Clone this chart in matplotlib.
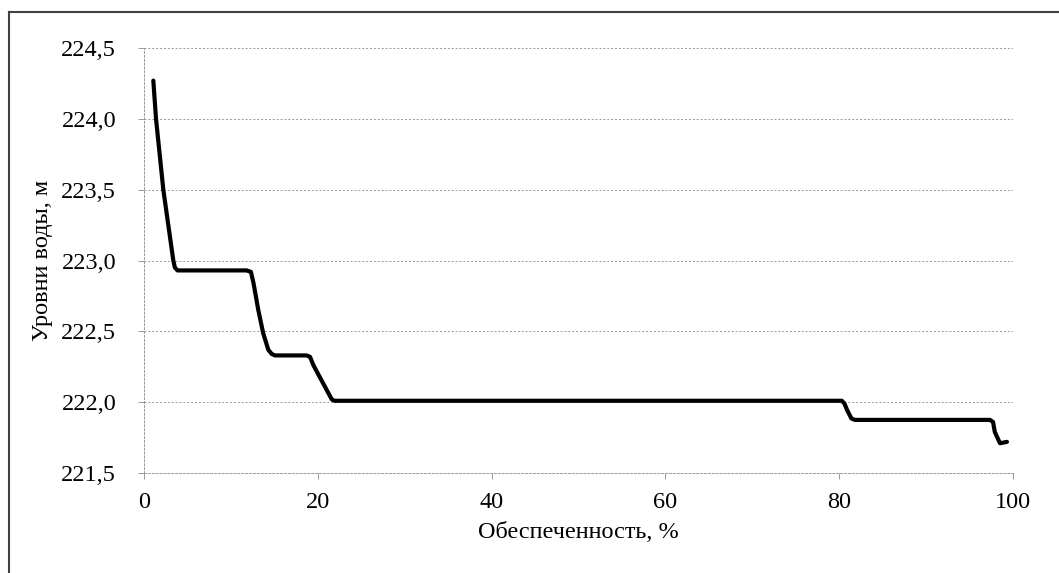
import matplotlib.pyplot as plt
from matplotlib.lines import Line2D
from matplotlib.ticker import FuncFormatter

# обеспеченность, % и уровни воды, м
supply = [1.07, 1.38, 2.22, 3.37, 3.55, 3.85, 11.8, 12.3, 12.6, 13.15, 13.7, 14.3, 14.7, 15.07,
          18.7, 19.1, 19.5, 21.6, 21.9, 80.3, 80.6, 80.9, 81.4, 81.8, 97.35, 97.7, 97.9, 98.5, 99.3]
level = [224.27, 224.0, 223.5, 223.0, 222.95, 222.93, 222.93, 222.92, 222.84, 222.65, 222.49,
         222.37, 222.34, 222.33, 222.33, 222.32, 222.26, 222.02, 222.01, 222.01, 221.99,
         221.945, 221.885, 221.875, 221.875, 221.86, 221.79, 221.71, 221.72]

x_ticks = [0, 20, 40, 60, 80, 100]
y_ticks = [221.5, 222.0, 222.5, 223.0, 223.5, 224.0, 224.5]

plt.rcParams['font.family'] = ['Liberation Serif', 'DejaVu Serif']

fig = plt.figure(figsize=(10.59, 5.73), dpi=100)
ax = fig.add_axes([0.136, 0.1745, 0.8206, 0.7417])

ax.plot(supply, level, color='black', linewidth=3.0, solid_joinstyle='round',
        solid_capstyle='round')

ax.set_xlim(0, 100)
ax.set_ylim(221.5, 224.5)
ax.set_xticks(x_ticks)
ax.set_yticks(y_ticks)
ax.yaxis.set_major_formatter(FuncFormatter(lambda v, p: f'{v:.1f}'.replace('.', ',')))

grid_style = dict(color='0.6', linestyle=(0, (2, 2)), linewidth=0.7)
ax.yaxis.grid(True, **grid_style)
ax.xaxis.grid(False)
for s in ['top', 'right']:
    ax.spines[s].set_visible(False)
for s in ['left', 'bottom']:
    ax.spines[s].set_color('0.6')
    ax.spines[s].set_linestyle((0, (2, 2)))
    ax.spines[s].set_linewidth(0.7)

ax.tick_params(axis='both', colors='0.6', labelcolor='black', labelsize=17.5,
               length=4, width=0.7)
ax.tick_params(axis='x', pad=10)
ax.tick_params(axis='y', pad=16)

ax.set_xlabel('Обеспеченность, %', fontsize=17.5, labelpad=6)
ax.set_ylabel('Уровни воды, м', fontsize=17.5, labelpad=6)

# frame of the scanned figure (only left and top edges are in view)
fig.add_artist(Line2D([9 / 1059, 9 / 1059], [-0.1, 1 - 12 / 573], color='0.25',
                      linewidth=1.5, transform=fig.transFigure))
fig.add_artist(Line2D([9 / 1059, 1.1], [1 - 12 / 573, 1 - 12 / 573], color='0.25',
                      linewidth=1.5, transform=fig.transFigure))

plt.savefig('out.png', dpi=100)
